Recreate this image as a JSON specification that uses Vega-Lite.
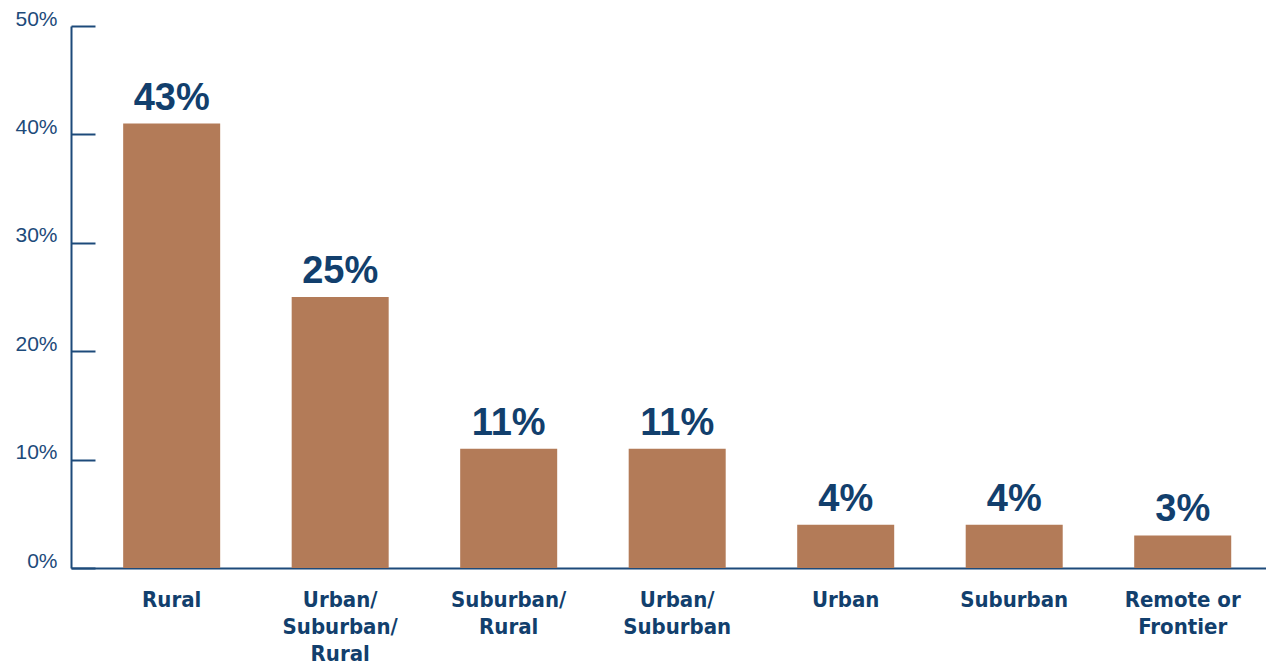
{
  "$schema": "https://vega.github.io/schema/vega-lite/v6.json",
  "autosize": "none",
  "padding": {"left": 71, "top": 26, "right": 0, "bottom": 97},
  "width": 1195,
  "height": 542,
  "background": "white",
  "data": {"values": [
    {"category": "Rural", "value": 41, "label": "43%"},
    {"category": "Urban/Suburban/Rural", "value": 25, "label": "25%"},
    {"category": "Suburban/Rural", "value": 11, "label": "11%"},
    {"category": "Urban/Suburban", "value": 11, "label": "11%"},
    {"category": "Urban", "value": 4, "label": "4%"},
    {"category": "Suburban", "value": 4, "label": "4%"},
    {"category": "Remote or Frontier", "value": 3, "label": "3%"}
  ]},
  "config": {"view": {"stroke": null}},
  "encoding": {
    "x": {
      "field": "category", "type": "nominal", "sort": null,
      "scale": {"paddingInner": 0.4243, "paddingOuter": 0.258, "align": 0.6},
      "axis": {
        "title": null, "labelAngle": 0, "ticks": false,
        "domainColor": "#1d4a7a", "domainWidth": 2,
        "labelFont": "'DejaVu Sans Condensed', 'Roboto Condensed', Roboto, sans-serif", "labelFontWeight": "bold",
        "labelFontSize": 22, "labelColor": "#123f6d", "labelLineHeight": 27,
        "labelBaseline": "top", "labelPadding": 21,
        "labelExpr": "datum.value == 'Remote or Frontier' ? ['Remote or', 'Frontier'] : split(replace(datum.value, regexp('/', 'g'), '/|'), '|')"
      }
    },
    "y": {
      "field": "value", "type": "quantitative",
      "scale": {"domain": [0, 50]},
      "axis": {
        "title": null, "grid": false, "values": [0, 10, 20, 30, 40, 50],
        "labelExpr": "datum.value + '%'",
        "domainColor": "#1d4a7a", "domainWidth": 2,
        "tickColor": "#1d4a7a", "tickWidth": 2, "tickSize": -24,
        "labelFont": "Liberation Sans", "labelFontSize": 21,
        "labelColor": "#1d4a7a", "labelPadding": 38, "labelOffset": -7
      }
    }
  },
  "layer": [
    {"mark": {"type": "bar", "color": "#b37b58"}},
    {
      "mark": {"type": "text", "baseline": "alphabetic", "dy": -14,
        "font": "Liberation Sans", "fontWeight": "bold", "fontSize": 38, "color": "#123f6d"},
      "encoding": {"text": {"field": "label"}}
    }
  ]
}
